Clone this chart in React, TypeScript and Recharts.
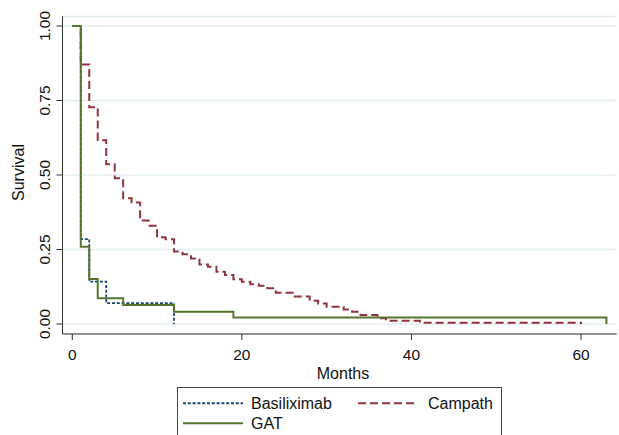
import React from 'react';
import { LineChart, Line, XAxis, YAxis, CartesianGrid, Legend, Label } from 'recharts';

const FONT = '"Liberation Sans", Arial, Helvetica, sans-serif';

// Kaplan-Meier step data (months, survival)
const basMonths = [0, 1, 2, 4, 12];
const basSurv = [1, 0.285, 0.142, 0.07, 0];

const camMonths = [0, 1, 2, 3, 4, 5, 6, 7, 8, 9, 10, 11, 12, 13, 14, 15, 16, 17, 18, 19, 20, 21, 22, 23, 24, 26, 28, 29, 30, 32, 33, 34, 36, 37, 41, 60];
const camSurv = [1, 0.871, 0.727, 0.617, 0.536, 0.489, 0.422, 0.408, 0.347, 0.33, 0.291, 0.284, 0.243, 0.234, 0.22, 0.2, 0.192, 0.175, 0.164, 0.15, 0.142, 0.133, 0.128, 0.12, 0.105, 0.092, 0.078, 0.069, 0.058, 0.049, 0.041, 0.03, 0.019, 0.011, 0.0044, 0];

const gatMonths = [0, 1, 2, 3, 6, 12, 19, 63];
const gatSurv = [1, 0.259, 0.151, 0.086, 0.064, 0.041, 0.022, 0];

const xTicks = [0, 20, 40, 60];
const yTicks = [0, 0.25, 0.5, 0.75, 1];

const seriesNames = ['Basiliximab', 'Campath', 'GAT'];
const seriesColors = ['#1a476f', '#90353b', '#55752f'];
const seriesDash = ['3 1.8', '8 4', undefined];

const toPoints = (ms: number[], ss: number[]) => ms.map((m, i) => ({ m, s: ss[i] }));
const basData = toPoints(basMonths, basSurv);
const camData = toPoints(camMonths, camSurv);
const gatData = toPoints(gatMonths, gatSurv);

const YTick = (props: any) => {
  const { y, payload } = props;
  return (
    <text
      transform={`translate(50,${y}) rotate(-90)`}
      textAnchor="middle"
      fontSize={15.5}
      fontFamily={FONT}
      fill="#111"
    >
      {Number(payload.value).toFixed(2)}
    </text>
  );
};

const XTick = (props: any) => {
  const { x, payload } = props;
  return (
    <text x={x} y={359.5} textAnchor="middle" fontSize={15.5} fontFamily={FONT} fill="#111">
      {payload.value}
    </text>
  );
};

const LegendBox = () => {
  const items = [
    { i: 0, lx: 5, tx: 73, cy: 16.3 },
    { i: 1, lx: 180, tx: 250, cy: 16.3 },
    { i: 2, lx: 5, tx: 73, cy: 36.3 },
  ];
  return (
    <div style={{ width: 325, height: 60, border: '1px solid #444', boxSizing: 'border-box', background: '#fff' }}>
      <svg width={323} height={58} style={{ display: 'block' }}>
        {items.map((it) => (
          <g key={it.i}>
            <line
              x1={it.lx}
              x2={it.lx + 60}
              y1={it.cy - 1}
              y2={it.cy - 1}
              stroke={seriesColors[it.i]}
              strokeWidth={2}
              strokeDasharray={seriesDash[it.i]}
            />
            <text x={it.tx} y={it.cy + 4.8} fontSize={16} fontFamily={FONT} fill="#111">
              {seriesNames[it.i]}
            </text>
          </g>
        ))}
      </svg>
    </div>
  );
};

export default function App() {
  return (
    <div style={{ position: 'absolute', left: 0, top: 0, width: 619, height: 435, background: '#fff', overflow: 'hidden' }}>
      <LineChart width={619} height={435} margin={{ top: 16.5, right: 2.3, left: 0, bottom: 61 }}>
        <CartesianGrid horizontal vertical={false} stroke="#e4eef0" strokeWidth={1.5} />
        <XAxis
          dataKey="m"
          type="number"
          domain={[-1.156, 64.21]}
          allowDataOverflow
          ticks={xTicks}
          tick={<XTick />}
          tickSize={6}
          height={40}
          stroke="#333"
          axisLine={{ stroke: '#333' }}
          tickLine={{ stroke: '#333' }}
        >
          <Label
            content={() => (
              <text x={343} y={379} textAnchor="middle" fontSize={16} fontFamily={FONT} fill="#111">
                Months
              </text>
            )}
          />
        </XAxis>
        <YAxis
          type="number"
          domain={[-0.0336, 1.0319]}
          allowDataOverflow
          ticks={yTicks}
          tick={<YTick />}
          tickSize={6}
          width={62.5}
          axisLine={{ stroke: '#333' }}
          tickLine={{ stroke: '#333' }}
        >
          <Label
            content={() => (
              <text transform="translate(24,172.5) rotate(-90)" textAnchor="middle" fontSize={16} fontFamily={FONT} fill="#111">
                Survival
              </text>
            )}
          />
        </YAxis>
        <Line
          data={basData}
          dataKey="s"
          name={seriesNames[0]}
          type="stepAfter"
          stroke={seriesColors[0]}
          strokeWidth={1.8}
          strokeDasharray={seriesDash[0]}
          dot={false}
          activeDot={false}
          isAnimationActive={false}
        />
        <Line
          data={camData}
          dataKey="s"
          name={seriesNames[1]}
          type="stepAfter"
          stroke={seriesColors[1]}
          strokeWidth={2}
          strokeDasharray={seriesDash[1]}
          dot={false}
          activeDot={false}
          isAnimationActive={false}
        />
        <Line
          data={gatData}
          dataKey="s"
          name={seriesNames[2]}
          type="stepAfter"
          stroke={seriesColors[2]}
          strokeWidth={2}
          dot={false}
          activeDot={false}
          isAnimationActive={false}
        />
        <Legend
          layout="horizontal"
          verticalAlign="middle"
          align="center"
          wrapperStyle={{ position: 'absolute', left: 177, top: 387, width: 325, height: 60, margin: 0, padding: 0 }}
          content={<LegendBox />}
        />
      </LineChart>
    </div>
  );
}
